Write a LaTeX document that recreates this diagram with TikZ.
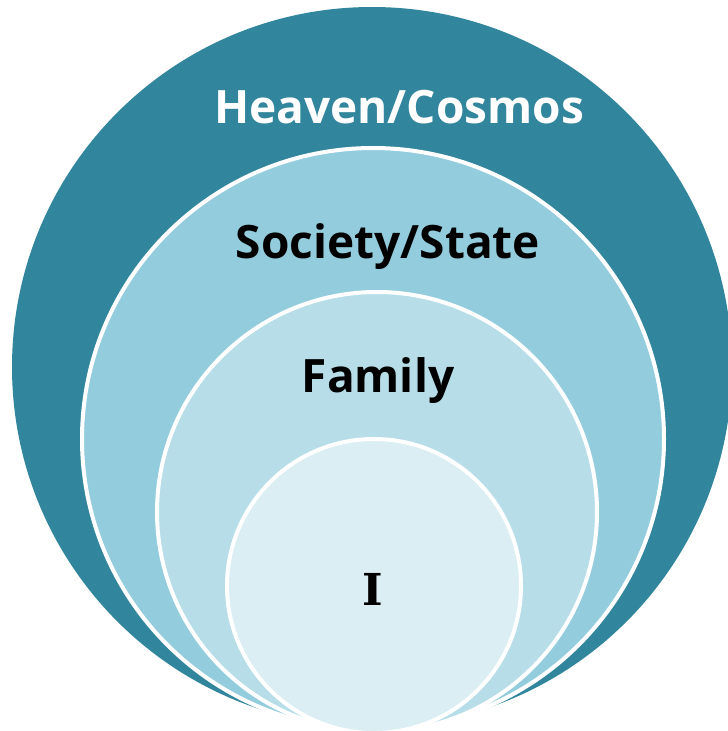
\documentclass[tikz,border=0pt]{standalone}
\usepackage{fontspec}
\setmainfont{Open Sans}
\newfontfamily\slabfont{DejaVu Serif}
\definecolor{heaven}{HTML}{31859C}
\definecolor{society}{HTML}{93CDDD}
\definecolor{family}{HTML}{B7DEE8}
\definecolor{self}{HTML}{DAEEF3}
\begin{document}
\begin{tikzpicture}[x=1pt,y=-1pt,
  ring/.style={draw=white,line width=4pt},
  ringtext/.style={anchor=base,inner sep=0pt,font=\fontsize{46}{50}\selectfont\bfseries}]
\useasboundingbox (0,0) rectangle (728,731);
\clip (0,0) rectangle (728,731);
% Draw the four circles, outer to inner
\fill[heaven] (372,367) circle[radius=360pt];
\draw[ring,fill=society] (373,439) circle[radius=291pt];
\draw[ring,fill=family] (377,512) circle[radius=220pt];
\draw[ring,fill=self] (374,586) circle[radius=147pt];
% Labels
\node[ringtext,text=white] (heaven-label) at (399,123) {Heaven/Cosmos};
\node[ringtext] (society-label) at (388,258) {Society/State};
\node[ringtext] (family-label) at (378,392) {Family};
\node[ringtext,font=\fontsize{44}{48}\slabfont\bfseries] (self-label) at (373,605) {I};
\end{tikzpicture}
\end{document}
